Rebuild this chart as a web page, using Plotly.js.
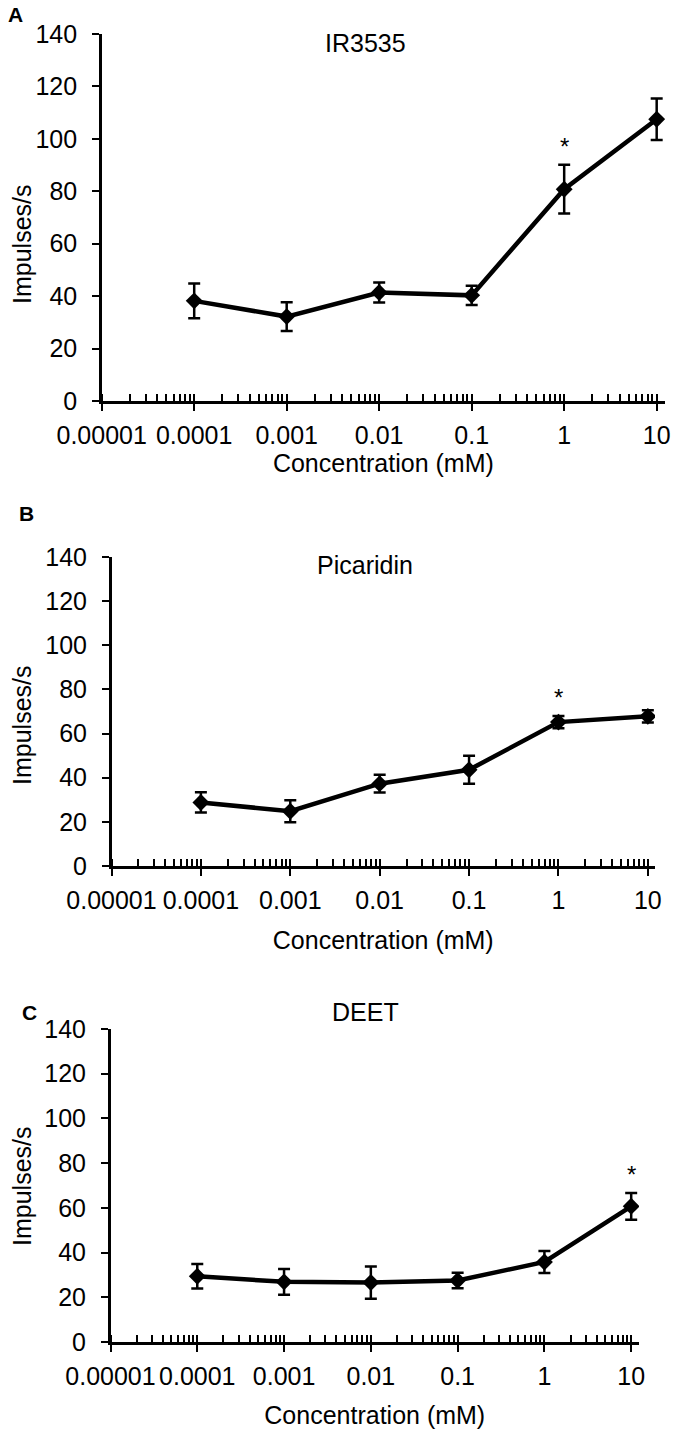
<!DOCTYPE html>
<html>
<head>
<meta charset="utf-8">
<script src="https://cdn.plot.ly/plotly-3.0.1.min.js"></script>
<style>
  html, body { margin: 0; padding: 0; background: #fff; }
  #chart { width: 677px; height: 1436px; }
</style>
</head>
<body>
<div id="chart"></div>
<script>
// ---------- data ----------
const concentrations = [0.0001, 0.001, 0.01, 0.1, 1, 10];
const xTickVals = [0.00001, 0.0001, 0.001, 0.01, 0.1, 1, 10];
const xTickText = ['0.00001', '0.0001', '0.001', '0.01', '0.1', '1', '10'];

const ir3535Mean = [38.2, 32.2, 41.4, 40.3, 80.8, 107.5];
const ir3535Err  = [6.6, 5.5, 3.8, 3.7, 9.3, 7.9];

const picaridinMean = [28.8, 24.8, 37.3, 43.6, 65.2, 67.8];
const picaridinErr  = [4.6, 5.0, 4.0, 6.3, 2.8, 2.8];

const deetMean = [29.4, 26.9, 26.6, 27.5, 35.8, 60.7];
const deetErr  = [5.5, 5.8, 7.2, 3.5, 4.9, 6.0];

const panelNames = ['IR3535', 'Picaridin', 'DEET'];
const panelLetters = ['A', 'B', 'C'];
// index of the concentration marked as significant (*) in each panel
const significantIndex = [4, 4, 5];

// ---------- layout helpers ----------
const W = 677, H = 1436;
const FONT = 'Liberation Sans, Arial, sans-serif';
const px = p => p / W;
const py = p => 1 - p / H;

const means = [ir3535Mean, picaridinMean, deetMean];
const errs = [ir3535Err, picaridinErr, deetErr];

// pixel geometry of each panel
const geom = [
  {l: 101.7, r: 665, t: 34,   b: 401,  xmax: 1.09, title: [366, 43],   letter: [15, 15],   ytitle: [22, 245],  xts: 1},
  {l: 111.5, r: 655, t: 557,  b: 866,  xmax: 1.08, title: [365, 565],  letter: [26, 514],  ytitle: [22, 726],  xts: 19},
  {l: 110.5, r: 639, t: 1029, b: 1342, xmax: 1.09, title: [365, 1012], letter: [29, 1012], ytitle: [22, 1187], xts: 18}
];

const traces = [];
const layout = {
  width: W, height: H,
  margin: {l: 0, r: 0, t: 0, b: 0},
  paper_bgcolor: '#fff', plot_bgcolor: 'rgba(0,0,0,0)',
  showlegend: false,
  font: {family: FONT, color: '#000', size: 25},
  annotations: []
};

geom.forEach((g, i) => {
  const n = i + 1;
  const xa = n === 1 ? 'x' : 'x' + n;
  const ya = n === 1 ? 'y' : 'y' + n;
  const xKey = n === 1 ? 'xaxis' : 'xaxis' + n;
  const yKey = n === 1 ? 'yaxis' : 'yaxis' + n;
  const ovN = n + 3;

  traces.push({
    type: 'scatter', mode: 'lines+markers',
    x: concentrations, y: means[i],
    xaxis: xa, yaxis: ya,
    line: {color: '#000', width: 4.5},
    marker: {symbol: 'diamond', size: 13, color: '#000'},
    error_y: {type: 'data', array: errs[i], visible: true, color: '#000', thickness: 2.5, width: 6},
    hoverinfo: 'x+y'
  });

  layout[xKey] = {
    type: 'log', range: [-5, g.xmax],
    domain: [px(g.l), px(g.r)],
    anchor: ya,
    tickvals: xTickVals, ticktext: xTickText,
    ticks: 'outside', ticklen: 7, tickwidth: 2, tickcolor: '#000',
    minor: {ticks: 'inside', ticklen: 7, tickwidth: 2, tickcolor: '#000', dtick: 'D1', showgrid: false},
    showline: true, linecolor: '#000', linewidth: 2.5,
    showgrid: false, zeroline: false,
    tickfont: {family: FONT, size: 25, color: '#000'},
    ticklabelstandoff: 3,
    title: {text: 'Concentration (mM)', font: {family: FONT, size: 25, color: '#000'}, standoff: g.xts},
    fixedrange: true
  };
  // overlay axis to draw the inner half of the crossing major ticks
  layout['xaxis' + ovN] = {
    type: 'log', range: [-5, g.xmax],
    overlaying: xa, anchor: ya, side: 'bottom',
    tickvals: xTickVals, showticklabels: false,
    ticks: 'inside', ticklen: 7, tickwidth: 2, tickcolor: '#000',
    showline: false, showgrid: false, zeroline: false, fixedrange: true
  };
  traces.push({type: 'scatter', mode: 'markers', x: [1], y: [0], xaxis: 'x' + ovN, yaxis: ya,
               marker: {opacity: 0}, hoverinfo: 'skip', showlegend: false});

  layout[yKey] = {
    range: [0, 140], tick0: 0, dtick: 20,
    domain: [py(g.b), py(g.t)],
    anchor: xa,
    ticks: 'outside', ticklen: 7, tickwidth: 2, tickcolor: '#000',
    showline: true, linecolor: '#000', linewidth: 2.5,
    showgrid: false, zeroline: false,
    tickfont: {family: FONT, size: 25, color: '#000'},
    ticklabelstandoff: 10,
    fixedrange: true
  };

  // panel title
  layout.annotations.push({
    text: panelNames[i], xref: 'paper', yref: 'paper',
    x: px(g.title[0]), y: py(g.title[1]), xanchor: 'center', yanchor: 'middle',
    showarrow: false, font: {family: FONT, size: 25, color: '#000'}
  });
  // panel letter
  layout.annotations.push({
    text: '<b>' + panelLetters[i] + '</b>', xref: 'paper', yref: 'paper',
    x: px(g.letter[0]), y: py(g.letter[1]), xanchor: 'center', yanchor: 'middle',
    showarrow: false, font: {family: FONT, size: 21, color: '#000'}
  });
  // y-axis title
  layout.annotations.push({
    text: 'Impulses/s', xref: 'paper', yref: 'paper', textangle: -90,
    x: px(g.ytitle[0]), y: py(g.ytitle[1]), xanchor: 'center', yanchor: 'middle',
    showarrow: false, font: {family: FONT, size: 25, color: '#000'}
  });
  // significance asterisk above the error bar
  const k = significantIndex[i];
  layout.annotations.push({
    text: '*', xref: xa, yref: ya,
    x: Math.log10(concentrations[k]), y: means[i][k] + errs[i][k],
    yshift: 18, xanchor: 'center', yanchor: 'middle',
    showarrow: false, font: {family: FONT, size: 24, color: '#000'}
  });
});

Plotly.newPlot('chart', traces, layout, {staticPlot: true, displayModeBar: false});
</script>
</body>
</html>
